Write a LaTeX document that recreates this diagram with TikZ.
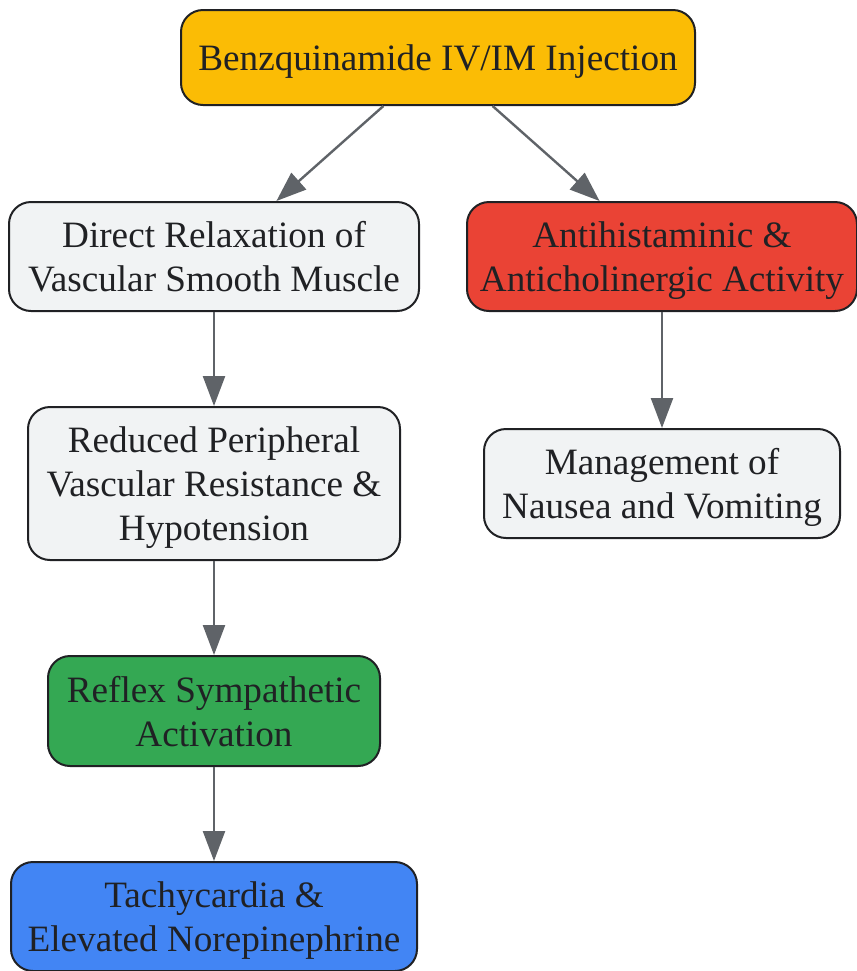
\documentclass[tikz,border=0pt]{standalone}
\usepackage{fontspec}
\setmainfont{Liberation Serif}
\usetikzlibrary{arrows.meta, positioning}
\definecolor{boxline}{HTML}{202124}
\definecolor{arrowgray}{HTML}{5F6368}
\definecolor{boxgray}{HTML}{F1F3F4}
\definecolor{boxorange}{HTML}{FBBC05}
\definecolor{boxred}{HTML}{EA4335}
\definecolor{boxgreen}{HTML}{34A853}
\definecolor{boxblue}{HTML}{4285F4}
\tikzset{%
flow box/.style={
    rectangle, rounded corners=11pt,
    draw=boxline, line width=1pt,
    fill=boxgray, text=boxline,
    align=center, inner sep=0pt,
    text depth=0pt,
    font=\fontsize{18.6}{22}\selectfont
},
flow arrow/.style={
    draw=arrowgray, line width=1.2pt,
    -{Triangle[length=15pt,width=11pt]}
},
}
\begin{document}
\begin{tikzpicture}[]
\useasboundingbox (0,0) rectangle (428.5pt,-485.5pt);

\node (inj) [flow box, fill=boxorange, minimum width=257pt, minimum height=47.5pt] at (219pt,-28.75pt) {Benzquinamide IV/IM Injection};
% left branch
\node (relax) [flow box, minimum width=205pt, minimum height=54.5pt] at (107pt,-128.25pt) {Direct Relaxation of\\Vascular Smooth Muscle};
\node (reduced) [flow box, below=47pt of relax, minimum width=186pt, minimum height=76.5pt] {Reduced Peripheral\\Vascular Resistance \&\\Hypotension};
\node (reflex) [flow box, fill=boxgreen, below=47pt of reduced, minimum width=166pt, minimum height=55pt] {Reflex Sympathetic\\Activation};
\node (tachy) [flow box, fill=boxblue, below=47pt of reflex, minimum width=203pt, minimum height=54.5pt] {Tachycardia \&\\Elevated Norepinephrine};
% right branch
\node (anti) [flow box, fill=boxred, minimum width=195pt, minimum height=54.5pt] at (331pt,-128.25pt) {Antihistaminic \&\\Anticholinergic Activity};
\node (mgmt) [flow box, below=58pt of anti, minimum width=178pt, minimum height=54.5pt] {Management of\\Nausea and Vomiting};

\draw [flow arrow] (inj) -- (relax);
\draw [flow arrow] (inj) -- (anti);
\draw [flow arrow] (relax) -- (reduced);
\draw [flow arrow] (reduced) -- (reflex);
\draw [flow arrow] (reflex) -- (tachy);
\draw [flow arrow] (anti) -- (mgmt);
\end{tikzpicture}
\end{document}
